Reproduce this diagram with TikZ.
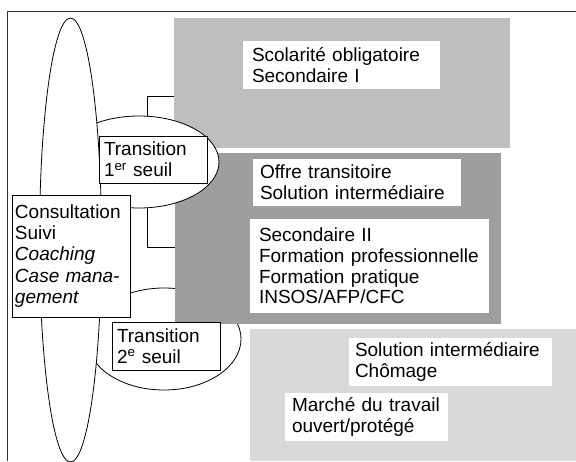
\documentclass[tikz,border=0pt]{standalone}
\usepackage{fontspec}
\setmainfont{Liberation Sans}
\usepackage{xcolor}
\usetikzlibrary{shapes.geometric, positioning, calc}
\definecolor{stageGreyA}{RGB}{189, 190, 192}
\definecolor{stageGreyB}{RGB}{157, 158, 160}
\definecolor{stageGreyC}{RGB}{216, 217, 219}

\begin{document}
\begin{tikzpicture}[x=1pt, y=-1pt]
    \tikzstyle{stage} = [rectangle, inner sep=0pt, outer sep=0pt, anchor=north west]
    \tikzstyle{textbox} = [rectangle, fill=white, inner ysep=0pt, outer sep=0pt, anchor=north west, align=left, font=\fontsize{19}{20.7}\selectfont]
    \tikzstyle{framebox} = [textbox, draw=black, line width=0.8pt]
    \tikzstyle{ring} = [ellipse, draw=black, fill=white, line width=0.8pt, inner sep=0pt, outer sep=0pt]
    \tikzstyle{line} = [draw=black, line width=0.8pt]

    \useasboundingbox (0,0) rectangle (576,461);

    % second threshold lies under the grey stages
    \node[ring, minimum width=154, minimum height=102] (seuil2) at (164,339) {};

    \node[stage, fill=stageGreyA, minimum width=336, minimum height=130] (oblig) at (174,18) {};
    \node[stage, fill=stageGreyB, minimum width=326, minimum height=171] (sec) at (175,153) {};
    \node[stage, fill=stageGreyC, minimum width=326, minimum height=132] (marche) at (250,329) {};

    \node[textbox, text width=179, inner xsep=9, minimum height=48] (obligtxt) at (243,41) {Scolarité obligatoire\\Secondaire I};
    \node[textbox, text width=194, inner xsep=7, minimum height=47] (offretxt) at (253,159) {Offre transitoire\\Solution intermédiaire};
    \node[textbox, text width=221, inner xsep=9, minimum height=94] (sectxt) at (250,219) {Secondaire II\\Formation professionnelle\\Formation pratique\\INSOS/AFP/CFC};
    \node[textbox, text width=191, inner xsep=6, minimum height=48] (chomtxt) at (349,338) {Solution intermédiaire\\Chômage};
    \node[textbox, text width=149, inner xsep=7, minimum height=48] (marchetxt) at (285,393) {Marché du travail\\ouvert/protégé};

    \node[ring, minimum width=160, minimum height=92] (seuil1) at (139,162) {};
    \node[ring, minimum width=62, minimum height=444] (suivi) at (70.5,240) {};

    \node[framebox, text width=98, inner xsep=5, minimum height=47] (trans1) at (99,136) {Transition\\1\textsuperscript{er} seuil};
    \node[framebox, text width=98, inner xsep=5, minimum height=48] (trans2) at (112,322) {Transition\\2\textsuperscript{e} seuil};
    \node[framebox, text width=112, inner xsep=3, minimum height=122, font=\fontsize{19}{21.3}\selectfont] (consult) at (12,195) {Consultation\\Suivi\\\textit{Coaching}\\\textit{Case mana-}\\\textit{gement}};

    % brackets from the first threshold
    \coordinate (k1) at (147,96);
    \coordinate (k2) at (147,247);
    \draw[line] (k1 |- seuil1.north) -- (k1) -- (k1 -| oblig.west);
    \draw[line] (k2 |- seuil1.south) -- (k2) -- (k2 -| sec.west);

    % frame
    \draw[black!80, line width=1.2pt] (7.5,461) -- (7.5,11.5) -- (576,11.5);
\end{tikzpicture}
\end{document}
